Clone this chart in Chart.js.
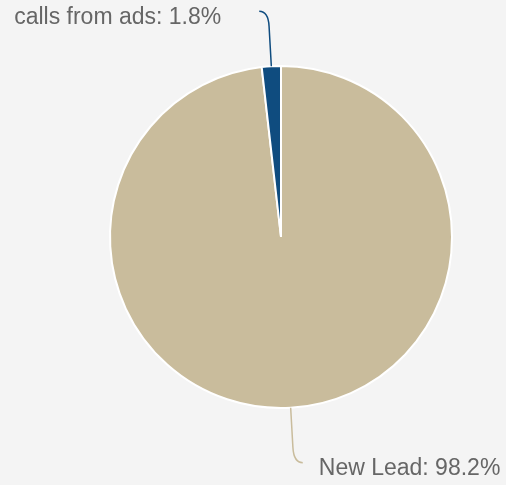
<!DOCTYPE html>
<html>
<head>
<meta charset="utf-8">
<script src="https://cdn.jsdelivr.net/npm/chart.js@4"></script>
<style>
  html, body { margin: 0; padding: 0; background: #f4f4f4; }
  #wrap { width: 506px; height: 485px; position: relative; }
</style>
</head>
<body>
<div id="wrap"><canvas id="pieChart"></canvas></div>
<script>
const categories = ['New Lead', 'calls from ads'];
const shares = [98.2, 1.8];
const sliceColors = ['#c9bc9c', '#0f4c7f'];

// leader lines + outside labels, positioned from the arc geometry
const outsideLabels = {
    id: 'outsideLabels',
    afterDatasetsDraw(chart) {
        const ctx = chart.ctx;
        const arcs = chart.getDatasetMeta(0).data;
        ctx.save();
        arcs.forEach(function (arc, i) {
            const mid = (arc.startAngle + arc.endAngle) / 2;
            const cos = Math.cos(mid), sin = Math.sin(mid);
            const r = arc.outerRadius;
            const p1 = { x: arc.x + cos * r, y: arc.y + sin * r };
            const p2 = { x: arc.x + cos * (r + 40), y: arc.y + sin * (r + 40) };
            const ctrl = { x: arc.x + cos * (r + 55), y: arc.y + sin * (r + 55) };
            const left = cos < 0;
            const end = { x: ctrl.x + (left ? -9 : 9), y: ctrl.y };

            ctx.beginPath();
            ctx.moveTo(p1.x, p1.y);
            ctx.lineTo(p2.x, p2.y);
            ctx.quadraticCurveTo(ctrl.x, ctrl.y, end.x, end.y);
            ctx.strokeStyle = sliceColors[i];
            ctx.lineWidth = 1.5;
            ctx.stroke();

            ctx.font = '23px "Liberation Sans", Arial, sans-serif';
            ctx.fillStyle = '#666666';
            ctx.textBaseline = 'alphabetic';
            ctx.textAlign = left ? 'right' : 'left';
            const tx = left ? end.x - 38 : end.x + 16;
            ctx.fillText(categories[i] + ': ' + shares[i] + '%', tx, end.y + 12.5);
        });
        ctx.restore();
    }
};

new Chart(document.getElementById('pieChart'), {
    type: 'pie',
    data: {
        labels: categories,
        datasets: [
            {
                data: shares,
                backgroundColor: sliceColors,
                borderColor: '#ffffff',
                borderWidth: 2,
                hoverOffset: 0,
            },
        ],
    },
    options: {
        responsive: true,
        maintainAspectRatio: false,
        animation: false,
        layout: {
            padding: { top: 65, bottom: 76, left: 109, right: 53 },
        },
        plugins: {
            legend: { display: false },
            tooltip: { enabled: false },
        },
    },
    plugins: [outsideLabels],
});
</script>
</body>
</html>
